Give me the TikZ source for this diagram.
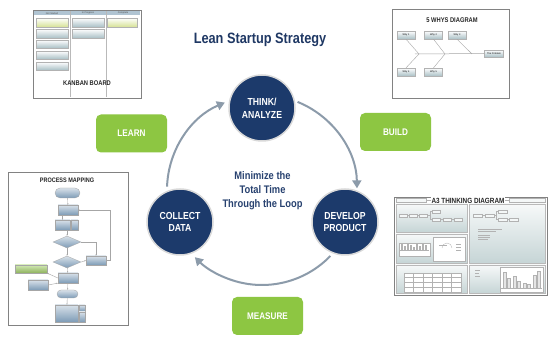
\documentclass[tikz,border=0pt]{standalone}
\usepackage{fontspec}
\setmainfont{Liberation Sans}
\newfontfamily\nf[FakeStretch=0.85]{Liberation Sans}
\usetikzlibrary{arrows.meta,shapes.geometric,shapes.misc}
\definecolor{navy}{RGB}{28,58,107}
\definecolor{titleblue}{RGB}{31,56,100}
\definecolor{midblue}{RGB}{40,66,112}
\definecolor{lgreen}{RGB}{141,198,66}
\definecolor{loopcol}{RGB}{140,155,170}
\definecolor{frameg}{RGB}{130,130,130}
\definecolor{cardteal}{RGB}{170,192,198}
\definecolor{cardyel}{RGB}{214,226,150}
\definecolor{kbhead}{RGB}{176,196,210}
\definecolor{flowblue}{RGB}{125,155,182}
\definecolor{panelb}{RGB}{198,213,214}
\tikzset{
  stage/.style={circle, fill=navy, draw=gray!30, line width=1.5pt, minimum size=66pt, inner sep=0pt, text=white, align=center, font=\nf\bfseries\fontsize{10.2}{12.7}\selectfont},
  gbox/.style={rounded corners=5pt, fill=lgreen, text=white, minimum width=71pt, minimum height=38pt, inner sep=0pt, font=\nf\bfseries\fontsize{9.6}{11}\selectfont},
  loop/.style={draw=loopcol, line width=2pt, -{Triangle[length=8pt,width=9pt]}},
  frame/.style={draw=frameg, line width=0.8pt, fill=white},
  thtitle/.style={font=\nf\bfseries\fontsize{6.8}{8}\selectfont, text=black!85, inner sep=0.5pt},
  tiny/.style={font=\fontsize{2.4}{3}\selectfont, text=black!70, inner sep=0pt},
  card/.style={draw=gray!60, line width=0.3pt, top color=white, bottom color=cardteal},
  ycard/.style={draw=gray!60, line width=0.3pt, top color=white, bottom color=cardyel},
  wbox/.style={draw=gray!60, line width=0.3pt, top color=white, bottom color=cardteal, inner sep=0pt, minimum width=18pt, minimum height=8pt, font=\fontsize{2.4}{3}\selectfont},
  fbox/.style={draw=gray!70, line width=0.3pt, top color=white!70!flowblue, bottom color=flowblue, inner sep=0pt},
  fterm/.style={fbox, rounded rectangle},
  fdia/.style={fbox, diamond, aspect=2.3},
  fline/.style={draw=gray!70, line width=0.4pt},
  panel/.style={draw=gray!55, line width=0.3pt, top color=white!85!panelb, bottom color=panelb},
  mini/.style={draw=gray!60, line width=0.25pt, fill=white!80!panelb},
}
\begin{document}
\begin{tikzpicture}[x=1pt,y=-1pt]
\useasboundingbox (0,0) rectangle (550,344);
\fill[white] (0,0) rectangle (550,344);

% ---- title
\node[font=\nf\bfseries\fontsize{15}{18}\selectfont, text=titleblue] (title) at (260,40) {Lean Startup Strategy};

% ---- loop arrows
\coordinate (lc) at (262,190);
\draw[loop] ([shift={(-68:95)}]lc) arc[start angle=-68, end angle=-1, radius=95];
\draw[loop] ([shift={(44:95)}]lc) arc[start angle=44, end angle=135, radius=95];
\draw[loop] ([shift={(-178:95)}]lc) arc[start angle=-178, end angle=-113, radius=95];

% ---- stages
\node[stage] (think) at (262,108) {THINK/\\ANALYZE};
\node[stage] (develop) at (345,222) {DEVELOP\\PRODUCT};
\node[stage] (collect) at (180,222) {COLLECT\\DATA};

\node[font=\nf\bfseries\fontsize{11}{14}\selectfont, text=midblue, align=center] (centre) at (262.5,191) {Minimize the\\Total Time\\Through the Loop};

% ---- green labels
\node[gbox] (learn) at (131.5,133.5) {LEARN};
\node[gbox] (build) at (395.5,132) {BUILD};
\node[gbox] (measure) at (267.5,316) {MEASURE};

% ---- Kanban board thumbnail
\draw[frame] (33,10) rectangle (141,98);
\fill[kbhead] (34,11) rectangle (140,15.5);
\draw[gray!55, line width=0.4pt] (70,11) -- (70,97) (106,11) -- (106,97);
\node[tiny] (kh1) at (52,13.3) {Not Started};
\node[tiny] (kh2) at (88,13.3) {In Progress};
\node[tiny] (kh3) at (123,13.3) {Complete};
\draw[ycard] (36,18) rectangle (68,27);
\draw[card] (36,29) rectangle (68,38);
\draw[card] (36,40) rectangle (68,48);
\draw[card] (36,51) rectangle (68,59);
\draw[card] (36,62) rectangle (68,70);
\draw[card] (72,18) rectangle (104,27);
\draw[card] (72,29) rectangle (104,38);
\draw[ycard] (107,18) rectangle (137,27);
\node[thtitle] (kbt) at (87,83) {KANBAN BOARD};

% ---- 5 whys thumbnail
\draw[frame] (392,9) rectangle (509,98);
\node[thtitle] (wt) at (452,20) {5 WHYS DIAGRAM};
\node[wbox] (w1) at (406,35) {Why 1};
\node[wbox] (w2) at (433.5,35) {Why 2};
\node[wbox] (w3) at (457,35) {Why 3};
\node[wbox] (w4) at (406,72) {Why 4};
\node[wbox] (w5) at (433.5,72) {Why 5};
\node[wbox, minimum width=19pt, minimum height=7pt] (prob) at (494,53.5) {The Problem};
\coordinate (sp0) at (415,54);
\coordinate (s1) at (419,54);
\coordinate (s2) at (445,54);
\coordinate (s3) at (472,54);
\draw[gray!70, line width=0.5pt] (sp0) -- (prob.west);
\draw[gray!70, line width=0.4pt] (w1.south) -- (s1) (w2.south) -- (s2) (w3.south) -- (s3)
  (w4.north) -- (s1) (w5.north) -- (s2);

% ---- process mapping thumbnail
\draw[frame] (8,172) rectangle (128,325);
\node[thtitle, font=\nf\bfseries\fontsize{6.5}{8}\selectfont] (pt) at (67,180) {PROCESS MAPPING};
\node[fterm, minimum width=25pt, minimum height=10pt] (p1) at (67.5,193) {};
\node[fbox, minimum width=20pt, minimum height=10pt] (p2) at (68,210) {};
\node[fbox, minimum width=15pt, minimum height=10pt] (p3) at (62.5,225) {};
\node[fbox, minimum width=7pt, minimum height=10pt] (p3s) at (74.5,225) {};
\node[fdia, minimum width=28pt, minimum height=12pt] (d1) at (67,242) {};
\node[fdia, minimum width=28pt, minimum height=12pt] (d2) at (67,262) {};
\node[fbox, minimum width=20pt, minimum height=9pt] (pr) at (96,260.5) {};
\node[fbox, minimum width=20pt, minimum height=10pt] (p4) at (68,278) {};
\node[draw=gray!70, line width=0.3pt, top color=white!60!lgreen, bottom color=lgreen!80!black!80, minimum width=32pt, minimum height=8pt, inner sep=0pt] (pg) at (31,269) {};
\node[fbox, minimum width=20pt, minimum height=10pt] (pl) at (38,285) {};
\node[fterm, minimum width=21pt, minimum height=8pt] (p5) at (67.5,294) {};
\node[fbox, minimum width=23pt, minimum height=17pt] (p6) at (66.5,313.5) {};
\node[fbox, minimum width=6pt, minimum height=6pt] (p6a) at (82,308) {};
\node[fbox, minimum width=6pt, minimum height=10pt] (p6b) at (82,317) {};
\draw[fline, -{Stealth[length=1.5pt]}] (p1) -- (p2);
\draw[fline, -{Stealth[length=1.5pt]}] (p2.south -| p3) -- (p3);
\draw[fline, -{Stealth[length=1.5pt]}] (p3.south -| d1) -- (d1);
\draw[fline, -{Stealth[length=1.5pt]}] (d1) -- (d2);
\draw[fline, -{Stealth[length=1.5pt]}] (d2) -- (p4);
\draw[fline, -{Stealth[length=1.5pt]}] (p4) -- (p5);
\draw[fline, -{Stealth[length=1.5pt]}] (p5) -- (p6);
\draw[fline, -{Stealth[length=1.5pt]}] (d1.east) -| (pr.north);
\draw[fline, -{Stealth[length=1.5pt]}] (d2.east) -- (pr.west);
\draw[fline, -{Stealth[length=1.5pt]}] (pr.east) -- ++(4,0) |- (p2.east);
\draw[fline, -{Stealth[length=1.5pt]}] (p4.west) -- (pg.south east);
\draw[fline, -{Stealth[length=1.5pt]}] (pl.east) -- (p4.south west);

% ---- A3 thinking thumbnail
\draw[frame] (394,197) rectangle (547,295);
\draw[gray!60, line width=0.4pt] (396,200) -- (545,200);
\draw[mini] (396,198) rectangle (426,202);
\draw[mini] (509,198) rectangle (545,202);
\node[thtitle, font=\nf\bfseries\fontsize{7.5}{9}\selectfont, fill=white, inner sep=1pt] (a3t) at (468,200.5) {A3 THINKING DIAGRAM};
\draw[panel] (396,204) rectangle (467,232);
\draw[panel] (396,234) rectangle (467,263);
\draw[panel] (396,265) rectangle (467,293);
\draw[panel] (469,204) rectangle (545,263);
\draw[panel] (469,265) rectangle (545,293);
% TL flow
\foreach \x in {399,409,419} \draw[mini] (\x,214) rectangle ++(8,3);
\draw[gray!60, line width=0.25pt] (407,215.5) -- (409,215.5) (417,215.5) -- (419,215.5) (427,215.5) -- (430,215.5) (430,211.5) -- (430,219.5) (430,211.5) -- (432,211.5) (430,219.5) -- (432,219.5) (440,219.5) -- (443,219.5) (451,219.5) -- (454,219.5);
\draw[mini] (432,210) rectangle ++(8,3);
\draw[mini] (432,218) rectangle ++(8,3);
\draw[mini] (443,218) rectangle ++(8,3);
\draw[mini] (454,218) rectangle ++(8,3);
% RT flow
\draw[mini] (473,214) rectangle ++(9,3);
\draw[mini] (485,214) rectangle ++(9,3);
\draw[gray!60, line width=0.25pt] (482,215.5) -- (485,215.5) (494,215.5) -- (496,215.5) (496,211.5) -- (496,219.5) (496,211.5) -- (498,211.5) (496,219.5) -- (498,219.5) (507,219.5) -- (509,219.5);
\draw[mini] (498,210) rectangle ++(9,3);
\draw[mini] (498,218) rectangle ++(9,3);
\draw[mini] (509,218) rectangle ++(9,3);
\draw[gray!60, line width=0.3pt] (478,229) -- (502,229) (478,231) -- (496,231) (478,235) -- (490,235) (478,237) -- (490,237) (478,239) -- (488,239);
% ML charts
\draw[mini, fill=white] (399,243) rectangle (430,256);
\foreach \x/\h in {401/6,404/4,407/7,410/5,413/3,416/6,419/4,422/7,425/5}
  \fill[gray!60] (\x,250) rectangle ++(2,-\h);
\draw[gray!60, line width=0.25pt] (400,250) -- (429,250);
\draw[mini, fill=white] (433,237) rectangle (465,261);
\draw[gray!60, line width=0.3pt] (442,248) arc[start angle=180, end angle=360, radius=5] -- (452,248);
\draw[gray!60, line width=0.3pt] (439,245) -- (447,245) (456,244) -- (461,244) (456,247) -- (461,247) (456,250) -- (461,250);
% BL table
\draw[mini, fill=white] (404,273) rectangle (461,292);
\foreach \x in {413.5,423,432.5,442,451.5} \draw[gray!60, line width=0.25pt] (\x,273) -- (\x,292);
\foreach \y in {277,282,287} \draw[gray!60, line width=0.25pt] (404,\y) -- (461,\y);
% RB chart
\draw[mini, fill=white] (500,267) rectangle (543,292);
\foreach \x/\h in {503/16,507/10,513/12,517/7,523/5,527/4,533/13,537/17}
  \draw[gray!60, line width=0.25pt, fill=white!80!gray] (\x,288) rectangle ++(3,-\h);
\draw[gray!60, line width=0.25pt] (501,288) -- (542,288);
\draw[gray!60, line width=0.3pt] (475,270) -- (480,270) (475,273) -- (479,273) (475,276) -- (480,276);
\end{tikzpicture}
\end{document}
